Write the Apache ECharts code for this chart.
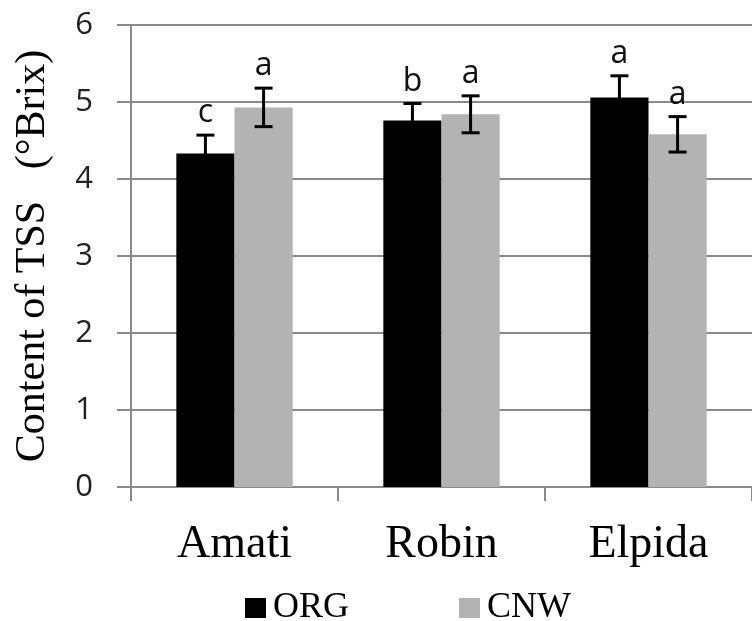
<!DOCTYPE html>
<html>
<head>
<meta charset="utf-8">
<script src="https://cdn.jsdelivr.net/npm/echarts@6/dist/echarts.min.js"></script>
<style>
  html, body { margin: 0; padding: 0; background: #fff; }
  #chart { width: 752px; height: 621px; }
</style>
</head>
<body>
<div id="chart"></div>
<script>
const cultivars = ['Amati', 'Robin', 'Elpida']
const orgMean = [4.33, 4.76, 5.06]
const orgErr = [0.24, 0.22, 0.28]
const orgLetters = ['c', 'b', 'a']
const cnwMean = [4.93, 4.84, 4.58]
const cnwErr = [0.25, 0.24, 0.23]
const cnwLetters = ['a', 'a', 'a']
const yTicks = [0, 1, 2, 3, 4, 5, 6]

const serif = '"Liberation Serif", "Times New Roman", serif'
const sans = '"Open Sans", "Liberation Sans", sans-serif'

// error bar + significance letter, side = -1 (ORG) or +1 (CNW)
const errorSeries = (name, means, errs, letters, side) => ({
  type: 'custom',
  name: name + '-err',
  z: 5,
  silent: true,
  data: means.map((m, i) => [i, m, errs[i]]),
  renderItem: (params, api) => {
    const idx = api.value(0)
    const band = api.size([1, 0])[0]
    const dx = side * band * 0.1405
    const top = api.coord([idx, api.value(1) + api.value(2)])
    const bot = api.coord([idx, api.value(1) - api.value(2)])
    const x = top[0] + dx
    const cap = 9
    const st = { stroke: '#000', lineWidth: 3 }
    return {
      type: 'group',
      children: [
        { type: 'line', shape: { x1: x, y1: top[1], x2: x, y2: bot[1] }, style: st },
        { type: 'line', shape: { x1: x - cap, y1: top[1], x2: x + cap, y2: top[1] }, style: st },
        { type: 'line', shape: { x1: x - cap, y1: bot[1], x2: x + cap, y2: bot[1] }, style: st },
        {
          type: 'text',
          style: {
            x: x, y: top[1] - 6,
            text: letters[idx],
            align: 'center', verticalAlign: 'bottom',
            font: '32px ' + sans, fill: '#111',
          },
        },
      ],
    }
  },
})

const chart = echarts.init(document.getElementById('chart'), null, { renderer: 'canvas' })
chart.setOption({
  animation: false,
  backgroundColor: '#fff',
  grid: { left: 131, right: -8, top: 25, bottom: 134 },
  legend: {
    data: ['ORG', 'CNW'],
    left: 240,
    top: 585,
    itemWidth: 21,
    itemHeight: 20,
    itemGap: 110,
    icon: 'rect',
    textStyle: { fontFamily: serif, fontSize: 36, color: '#000', padding: [0, 0, 0, 2] },
  },
  xAxis: {
    type: 'category',
    data: cultivars,
    axisLine: { lineStyle: { color: '#8a8a8a', width: 2 } },
    axisTick: { show: true, length: 14, lineStyle: { color: '#8a8a8a', width: 2 } },
    axisLabel: { fontFamily: serif, fontSize: 46, color: '#000', margin: 35 },
  },
  yAxis: {
    type: 'value',
    min: yTicks[0],
    max: yTicks[yTicks.length - 1],
    interval: 1,
    name: 'Content of TSS   (°Brix)',
    nameLocation: 'middle',
    nameGap: 77,
    nameTextStyle: { fontFamily: serif, fontSize: 42, color: '#000' },
    axisLine: { show: true, lineStyle: { color: '#8a8a8a', width: 2 } },
    axisTick: { show: true, length: 14, lineStyle: { color: '#8a8a8a', width: 2 } },
    axisLabel: { fontFamily: sans, fontSize: 31, color: '#222', margin: 38 },
    splitLine: { lineStyle: { color: '#8a8a8a', width: 2 } },
  },
  series: [
    {
      name: 'ORG', type: 'bar', data: orgMean,
      barGap: '0%', barCategoryGap: '43.8%',
      itemStyle: { color: '#000' },
    },
    {
      name: 'CNW', type: 'bar', data: cnwMean,
      itemStyle: { color: '#b3b3b3' },
    },
    errorSeries('ORG', orgMean, orgErr, orgLetters, -1),
    errorSeries('CNW', cnwMean, cnwErr, cnwLetters, 1),
  ],
})
</script>
</body>
</html>
